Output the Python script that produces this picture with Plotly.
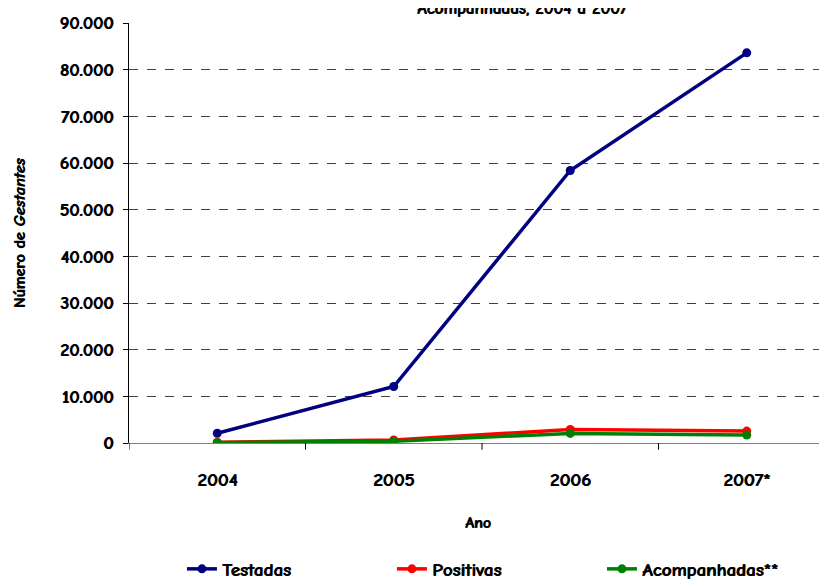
import plotly.graph_objects as go

# Dados
anos = ['2004', '2005', '2006', '2007*']
testadas = [2100, 12100, 58400, 83600]
positivas = [150, 650, 2900, 2550]
acompanhadas = [80, 400, 2050, 1700]

fonte = 'Comic Sans MS, Comic Neue, DejaVu Sans, sans-serif'
sombra = '0.8px 0 0 black'   # engrossa o texto (negrito)


def negrito(tam, estilo='normal'):
    return dict(family=fonte, size=tam, color='black', weight='bold', style=estilo, shadow=sombra)


fig = go.Figure()

# Séries
fig.add_trace(go.Scatter(x=anos, y=testadas, name='Testadas', mode='lines+markers',
                         line=dict(color='#000080', width=3.5), marker=dict(size=9)))
fig.add_trace(go.Scatter(x=anos, y=positivas, name='Positivas', mode='lines+markers',
                         line=dict(color='#ff0000', width=3.5), marker=dict(size=9)))
fig.add_trace(go.Scatter(x=anos, y=acompanhadas, name='Acompanhadas**', mode='lines+markers',
                         line=dict(color='#008000', width=3.5), marker=dict(size=9)))

# Título (cortado no topo da imagem original)
fig.add_annotation(text='Acompanhadas, 2004 a 2007', xref='paper', yref='paper',
                   x=0.557, y=1.034, xanchor='center', yanchor='middle', showarrow=False,
                   font=negrito(17))

# Títulos dos eixos
fig.add_annotation(text='Número de <i>Gestantes</i>', xref='paper', yref='paper',
                   x=-0.154, y=0.5, xanchor='center', yanchor='middle', textangle=-90,
                   showarrow=False, font=negrito(16))
fig.add_annotation(text='Ano', xref='paper', yref='paper',
                   x=0.495, y=-0.19, xanchor='center', yanchor='middle', showarrow=False,
                   font=negrito(16))

fig.update_layout(
    width=827, height=580,
    margin=dict(l=121, r=0, t=15, b=145, autoexpand=False),
    plot_bgcolor='white', paper_bgcolor='white',
    font=negrito(18),
    separators=',.',
    showlegend=True,
    legend=dict(orientation='h', x=0.075, xanchor='left', y=-0.30, yanchor='middle',
                entrywidth=165, font=negrito(19), tracegroupgap=0),
    xaxis=dict(
        range=[-0.5, 3.5], showline=True, linecolor='#808080', linewidth=1,
        ticks='', tickfont=negrito(19), showgrid=False, automargin=False,
        ticklabelstandoff=19,
    ),
    yaxis=dict(
        range=[0, 90000], tickvals=list(range(0, 90001, 10000)), tickformat=',d',
        showline=True, linecolor='black', linewidth=1, ticks='outside', ticklen=5,
        tickcolor='black', tickfont=negrito(18), automargin=False, ticklabelstandoff=6,
        showgrid=True, gridcolor='#404040', griddash='dash', gridwidth=1,
        zeroline=True, zerolinecolor='#808080', zerolinewidth=1.5,
    ),
)

# marcas do eixo x nas fronteiras entre categorias
for b in [-0.5, 0.5, 1.5, 2.5]:
    fig.add_shape(type='line', xref='x', yref='paper', x0=b, x1=b, y0=0, y1=-0.016,
                  line=dict(color='black', width=1))

fig.write_html('out.html')
